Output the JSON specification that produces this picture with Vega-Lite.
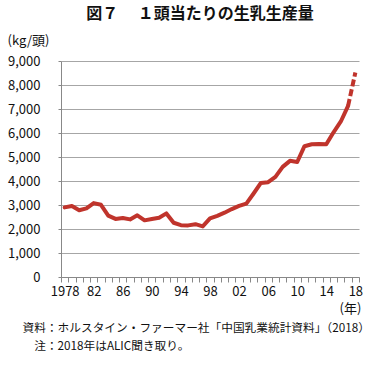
{
  "$schema": "https://vega.github.io/schema/vega-lite/v6.json",
  "width": 298,
  "height": 216,
  "autosize": "none",
  "padding": {"left": 61, "top": 61, "right": 16, "bottom": 92},
  "background": "white",
  "config": {
    "font": "Noto Sans CJK JP",
    "view": {"stroke": null}
  },
  "title": {
    "text": "図７　  １頭当たりの生乳生産量",
    "fontSize": 16,
    "fontWeight": "bold",
    "color": "#111111",
    "anchor": "middle",
    "frame": "group",
    "dx": -10,
    "dy": -12,
    "offset": 0
  },
  "data": {
    "values": [
      {"year": 1978, "value": 2900},
      {"year": 1979, "value": 2960},
      {"year": 1980, "value": 2780},
      {"year": 1981, "value": 2860},
      {"year": 1982, "value": 3080},
      {"year": 1983, "value": 3010},
      {"year": 1984, "value": 2560},
      {"year": 1985, "value": 2420},
      {"year": 1986, "value": 2460},
      {"year": 1987, "value": 2400},
      {"year": 1988, "value": 2570},
      {"year": 1989, "value": 2360},
      {"year": 1990, "value": 2420},
      {"year": 1991, "value": 2470},
      {"year": 1992, "value": 2650},
      {"year": 1993, "value": 2260},
      {"year": 1994, "value": 2160},
      {"year": 1995, "value": 2150},
      {"year": 1996, "value": 2200},
      {"year": 1997, "value": 2110},
      {"year": 1998, "value": 2440},
      {"year": 1999, "value": 2550},
      {"year": 2000, "value": 2680},
      {"year": 2001, "value": 2830},
      {"year": 2002, "value": 2960},
      {"year": 2003, "value": 3060},
      {"year": 2004, "value": 3480},
      {"year": 2005, "value": 3920},
      {"year": 2006, "value": 3950},
      {"year": 2007, "value": 4170},
      {"year": 2008, "value": 4590},
      {"year": 2009, "value": 4840},
      {"year": 2010, "value": 4790},
      {"year": 2011, "value": 5450},
      {"year": 2012, "value": 5530},
      {"year": 2013, "value": 5540},
      {"year": 2014, "value": 5530},
      {"year": 2015, "value": 6030},
      {"year": 2016, "value": 6480},
      {"year": 2017, "value": 7130},
      {"year": 2018, "value": 8520}
    ]
  },
  "encoding": {
    "y": {
      "field": "value",
      "type": "quantitative",
      "scale": {"domain": [0, 9000], "nice": false},
      "axis": {
        "values": [0, 1000, 2000, 3000, 4000, 5000, 6000, 7000, 8000, 9000],
        "format": ",.0f",
        "labelOverlap": false,
        "grid": true,
        "gridColor": "#a6a6a6",
        "gridWidth": 1,
        "domainColor": "#888888",
        "tickColor": "#888888",
        "tickSize": 3,
        "labelFontSize": 13,
        "labelColor": "#111111",
        "labelPadding": 18,
        "title": "(kg/頭)",
        "titleFontSize": 13,
        "titleFontWeight": "normal",
        "titleColor": "#111111",
        "titleAngle": 0,
        "titleAlign": "left",
        "titleBaseline": "middle",
        "titleX": -54,
        "titleY": -21
      }
    }
  },
  "resolve": {"axis": {"x": "independent"}},
  "layer": [
    {
      "transform": [{"filter": "datum.year <= 2017"}],
      "mark": {"type": "line", "color": "#c0342c", "strokeWidth": 4, "strokeJoin": "round", "strokeCap": "round"},
      "encoding": {
        "x": {
          "field": "year",
          "type": "ordinal",
          "scale": {"type": "band", "paddingInner": 0, "paddingOuter": 0},
          "axis": {
            "orient": "bottom",
            "labelAngle": 0,
            "tickBand": "extent",
            "tickSize": 5,
            "tickColor": "#888888",
            "domainColor": "#888888",
            "labelFontSize": 13,
            "labelColor": "#111111",
            "labelPadding": 3,
            "labelOverlap": false,
            "labelBaseline": "top",
            "labelExpr": "datum.value == 1978 ? '1978' : (datum.value - 1978) % 4 == 0 ? slice(toString(datum.value), 2) : ''",
            "title": ["資料：ホルスタイン・ファーマー社「中国乳業統計資料」（2018）", "\u200b\u3000注：2018年はALIC聞き取り。"],
            "titleFontSize": 11.7,
            "titleFontWeight": "normal",
            "titleColor": "#111111",
            "titleAnchor": "start",
            "titleAlign": "left",
            "titleBaseline": "top",
            "titleLineHeight": 18,
            "titleX": -39,
            "titleY": 45
          }
        }
      }
    },
    {
      "transform": [{"filter": "datum.year >= 2017"}],
      "mark": {"type": "line", "color": "#c0342c", "strokeWidth": 4, "strokeDash": [7, 3]},
      "encoding": {
        "x": {
          "field": "year",
          "type": "ordinal",
          "axis": {
            "orient": "bottom",
            "labels": false,
            "ticks": false,
            "domain": false,
            "grid": false,
            "title": "(年)",
            "titleFontSize": 13,
            "titleFontWeight": "normal",
            "titleColor": "#111111",
            "titleAlign": "center",
            "titleBaseline": "middle",
            "titleX": 289,
            "titleY": 31
          }
        }
      }
    }
  ]
}
